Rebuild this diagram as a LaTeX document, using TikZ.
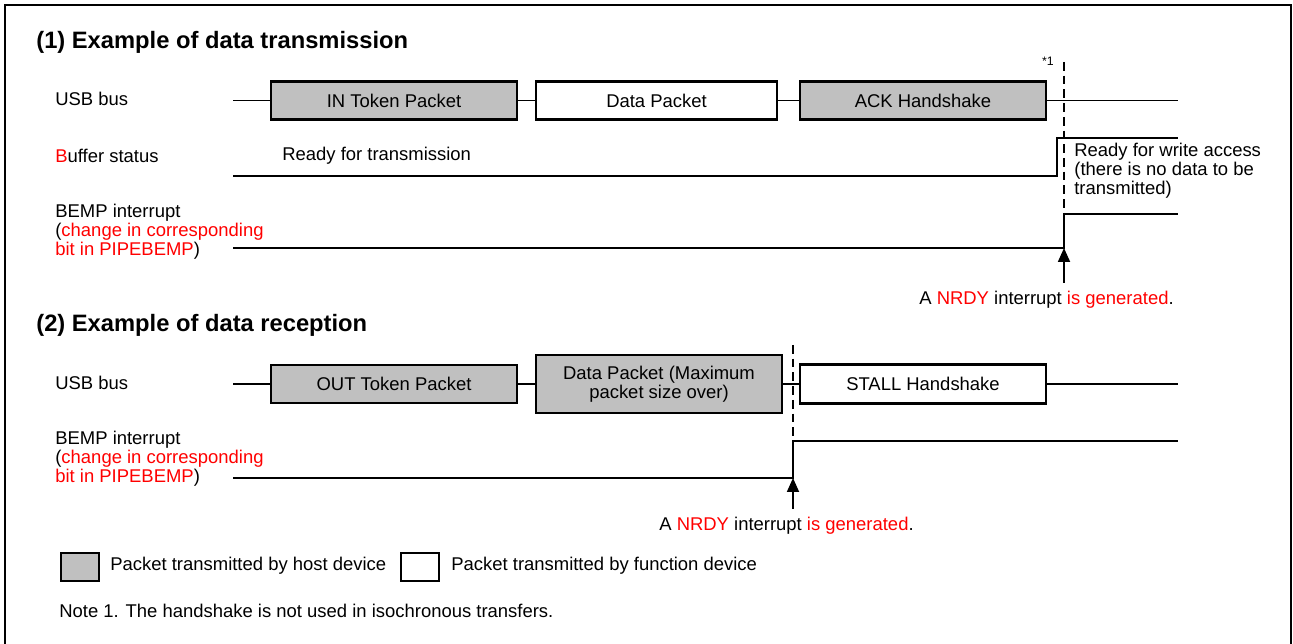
\documentclass[tikz,border=0pt]{standalone}
\usepackage{fontspec}
\setmainfont{Liberation Sans}
\usepackage{xcolor}
\usetikzlibrary{arrows.meta}

\definecolor{pktgray}{RGB}{192,192,192}
\definecolor{usbred}{RGB}{255,0,0}

\tikzset{
  every node/.style={font=\fontsize{10.5}{10.7}\selectfont},
  pkt/.style={draw, line width=1.2pt, minimum width=4.92cm, minimum height=0.76cm, inner sep=1pt, align=center},
  hostpkt/.style={pkt, fill=pktgray},
  funcpkt/.style={pkt, fill=white},
  legbox/.style={draw, line width=1.2pt, minimum width=0.77cm, minimum height=0.56cm, inner sep=0pt},
  sig/.style={line width=1pt},
  evtline/.style={line width=1.4pt, dash pattern=on 5pt off 2.8pt},
  lbl/.style={anchor=west, inner sep=0pt, align=left},
  heading/.style={anchor=west, inner sep=0pt, font=\bfseries\fontsize{13.5}{16}\selectfont}
}

\begin{document}
\begin{tikzpicture}
    \useasboundingbox (0,0) rectangle (25.86,12.88);
    % Frame (open at the bottom)
    \draw[line width=1.5pt] (0.1,-0.2) -- (0.1,12.78) -- (25.82,12.78) -- (25.82,-0.2);

    % (1) Data transmission
    \node[heading] (title1) at (0.72,12.04) {(1) Example of data transmission};

    % USB bus
    \node[lbl] (usb1) at (1.1,10.9) {USB bus};
    \coordinate (bus1s) at (4.66,10.87);
    \coordinate (bus1e) at (23.56,10.87);
    \node[hostpkt] (inTok) at (7.88,10.87) {IN Token Packet};
    \node[funcpkt, minimum width=4.82cm] (dataPkt) at (13.13,10.87) {Data Packet};
    \node[hostpkt] (ackHs) at (18.46,10.87) {ACK Handshake};
    \draw[sig] (bus1s) -- (inTok) -- (dataPkt) -- (ackHs) -- (bus1e);

    % Buffer status
    \node[lbl] (buf) at (1.1,9.76) {\textcolor{usbred}{B}uffer status};
    \coordinate (bufs) at (4.66,9.36);
    \coordinate (bufr) at (21.14,9.36);
    \coordinate (bufe) at (23.56,10.12);
    \draw[sig] (bufs) -- (bufr) |- (bufe);
    \node[lbl] (rdyTx) at (5.64,9.76) {Ready for transmission};
    \node[lbl] (rdyWr) at (21.48,9.46) {Ready for write access\\(there is no data to be\\transmitted)};

    % BEMP interrupt
    \node[lbl] (bemp1) at (1.1,8.24) {BEMP interrupt\\(\textcolor{usbred}{change in corresponding}\\\textcolor{usbred}{bit in PIPEBEMP})};
    \coordinate (bemp1s) at (4.66,7.92);
    \coordinate (bemp1r) at (21.28,7.92);
    \coordinate (bemp1e) at (23.56,8.6);
    \draw[sig] (bemp1s) -- (bemp1r) |- (bemp1e);

    % Dashed line and NRDY
    \coordinate (dash1t) at (21.28,11.64);
    \coordinate (dash1b) at (21.28,8.6);
    \draw[evtline] (dash1t) -- (dash1b);
    \node[inner sep=0pt, font=\fontsize{7}{8}\selectfont] (note1) at (20.96,11.66) {*1};
    \coordinate (nrdy1) at (21.28,7.22);
    \draw[sig, -{Triangle[width=0.24cm, length=0.28cm]}] (nrdy1) -- (bemp1r);
    \node[inner sep=0pt] (nrdyTxt1) at (20.93,6.88) {A \textcolor{usbred}{NRDY} interrupt \textcolor{usbred}{is generated}.};

    % (2) Data reception
    \node[heading] (title2) at (0.72,6.38) {(2) Example of data reception};

    % USB bus
    \node[lbl] (usb2) at (1.1,5.22) {USB bus};
    \coordinate (bus2s) at (4.66,5.2);
    \coordinate (bus2e) at (23.56,5.2);
    \node[hostpkt] (outTok) at (7.88,5.2) {OUT Token Packet};
    \node[hostpkt, minimum height=1.16cm] (dataMax) at (13.18,5.2) {Data Packet (Maximum\\packet size over)};
    \node[funcpkt, minimum height=0.78cm] (stallHs) at (18.46,5.2) {STALL Handshake};
    \draw[sig] (bus2s) -- (outTok) -- (dataMax) -- (stallHs) -- (bus2e);

    % BEMP interrupt
    \node[lbl] (bemp2) at (1.1,3.7) {BEMP interrupt\\(\textcolor{usbred}{change in corresponding}\\\textcolor{usbred}{bit in PIPEBEMP})};
    \coordinate (bemp2s) at (4.66,3.32);
    \coordinate (bemp2r) at (15.86,3.32);
    \coordinate (bemp2e) at (23.56,4.06);
    \draw[sig] (bemp2s) -- (bemp2r) |- (bemp2e);

    % Dashed line and NRDY
    \coordinate (dash2t) at (15.86,5.98);
    \coordinate (dash2b) at (15.86,4.06);
    \draw[evtline] (dash2t) -- (dash2b);
    \coordinate (nrdy2) at (15.86,2.7);
    \draw[sig, -{Triangle[width=0.24cm, length=0.28cm]}] (nrdy2) -- (bemp2r);
    \node[inner sep=0pt] (nrdyTxt2) at (15.73,2.36) {A \textcolor{usbred}{NRDY} interrupt \textcolor{usbred}{is generated}.};

    % Legend
    \node[legbox, fill=pktgray] (legHost) at (1.6,1.54) {};
    \node[lbl] (legHostTxt) at (2.2,1.56) {Packet transmitted by host device};
    \node[legbox, fill=white] (legFunc) at (8.4,1.54) {};
    \node[lbl] (legFuncTxt) at (9.02,1.56) {Packet transmitted by function device};

    % Note
    \node[lbl] (noteTxt) at (1.18,0.66) {Note 1. The handshake is not used in isochronous transfers.};
\end{tikzpicture}
\end{document}
